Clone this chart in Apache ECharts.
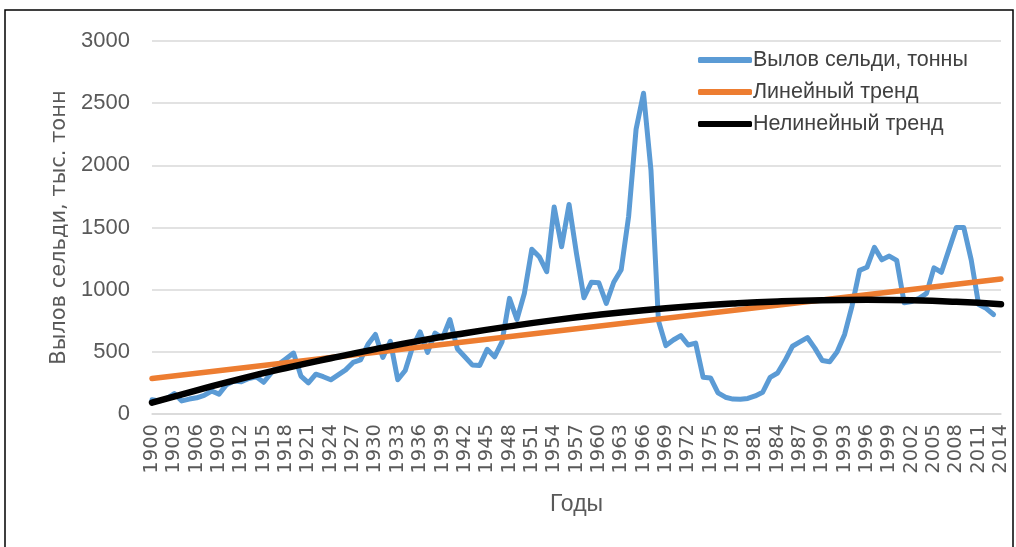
<!DOCTYPE html>
<html>
<head>
<meta charset="utf-8">
<script src="https://cdn.jsdelivr.net/npm/echarts@6/dist/echarts.min.js"></script>
<style>
  html, body { margin: 0; padding: 0; background: #fff; }
  #chart { width: 1016px; height: 547px; }
</style>
</head>
<body>
<div id="chart"></div>
<script>
// Years on the category axis
const years = [];
for (let y = 1900; y <= 2014; y++) years.push(String(y));

// Herring catch, thousand tonnes (1900–2013)
const catchValues = [
  115, 105, 125, 165, 105, 120, 130, 150, 185, 160,
  235, 265, 260, 285, 300, 255, 330, 400, 445, 490,
  305, 250, 320, 300, 275, 315, 355, 415, 435, 560,
  640, 455, 585, 275, 350, 540, 660, 495, 650, 610,
  760, 525, 460, 395, 390, 520, 460, 580, 930, 760,
  970, 1325, 1265, 1145, 1665, 1345, 1685, 1290, 935, 1060,
  1055, 890, 1060, 1160, 1590, 2290, 2580, 1960, 750, 550,
  595, 630, 555, 570, 295, 290, 170, 135, 120, 118,
  125, 145, 175, 295, 330, 430, 545, 580, 615, 530,
  430, 420, 500, 640, 870, 1155, 1180, 1340, 1240, 1270,
  1235, 895, 905, 930, 970, 1175, 1140, 1320, 1500, 1500,
  1240, 880, 850, 800
];

// Linear trend: end points
const linearYears = [1900, 2014];
const linearValues = [285, 1085];

// Nonlinear (polynomial) trend: values at selected years
const curveYears = [1900, 1906, 1912, 1918, 1924, 1930, 1936, 1942, 1948, 1954,
                    1960, 1966, 1972, 1978, 1984, 1990, 1996, 2002, 2008, 2014];
const curveValues = [92, 190, 285, 370, 448, 522, 590, 650, 705, 755,
                     798, 835, 865, 888, 905, 915, 918, 914, 902, 883];

const yTicks = [0, 500, 1000, 1500, 2000, 2500, 3000];

const pairs = (xs, vs) => xs.map((x, i) => [String(x), vs[i]]);

const chart = echarts.init(document.getElementById('chart'), null, { renderer: 'canvas' });

chart.setOption({
  animation: false,
  backgroundColor: '#ffffff',
  graphic: [{
    type: 'rect',
    shape: { x: 5, y: 10, width: 1008, height: 560 },
    style: { fill: 'none', stroke: '#000', lineWidth: 1.5 },
    silent: true
  }],
  grid: { left: 152, right: 15, top: 41, bottom: 133 },
  legend: {
    orient: 'vertical',
    left: 693,
    top: 44,
    itemWidth: 54,
    itemHeight: 6,
    itemGap: 10,
    icon: 'roundRect',
    textStyle: { fontFamily: 'Liberation Sans, Arial, sans-serif', fontSize: 21.5, color: '#404040', padding: [0, 0, 0, -4] },
    data: ['Вылов сельди, тонны', 'Линейный тренд', 'Нелинейный тренд']
  },
  xAxis: {
    type: 'category',
    data: years,
    boundaryGap: false,
    axisLine: { lineStyle: { color: '#d9d9d9', width: 1.5 } },
    axisTick: { show: false },
    axisLabel: {
      interval: 2,
      rotate: 90,
      margin: 10,
      fontFamily: 'DejaVu Sans, sans-serif',
      fontSize: 19.5,
      color: '#595959'
    },
    name: 'Годы',
    nameLocation: 'middle',
    nameGap: 79,
    nameTextStyle: { fontFamily: 'Liberation Sans, Arial, sans-serif', fontSize: 23, color: '#595959' }
  },
  yAxis: {
    type: 'value',
    min: yTicks[0],
    max: yTicks[yTicks.length - 1],
    interval: 500,
    axisLine: { show: false },
    axisTick: { show: false },
    splitLine: { lineStyle: { color: '#d9d9d9', width: 1.5 } },
    axisLabel: {
      margin: 22,
      formatter: (v) => String(v),
      fontFamily: 'Liberation Sans, Arial, sans-serif',
      fontSize: 22,
      color: '#595959'
    },
    name: 'Вылов сельди, тыс. тонн',
    nameLocation: 'middle',
    nameGap: 80,
    nameRotate: 90,
    nameTextStyle: { fontFamily: 'DejaVu Sans, sans-serif', fontSize: 21, color: '#595959' }
  },
  series: [
    {
      name: 'Вылов сельди, тонны',
      type: 'line',
      data: catchValues,
      symbol: 'none',
      color: '#5B9BD5',
      lineStyle: { color: '#5B9BD5', width: 5, join: 'round', cap: 'round' },
      z: 2
    },
    {
      name: 'Линейный тренд',
      type: 'line',
      data: pairs(linearYears, linearValues),
      symbol: 'none',
      color: '#ED7D31',
      lineStyle: { color: '#ED7D31', width: 5.5, cap: 'round' },
      z: 3
    },
    {
      name: 'Нелинейный тренд',
      type: 'line',
      data: pairs(curveYears, curveValues),
      smooth: true,
      symbol: 'none',
      color: '#000000',
      lineStyle: { color: '#000000', width: 6.5, cap: 'round' },
      z: 4
    }
  ]
});
</script>
</body>
</html>
